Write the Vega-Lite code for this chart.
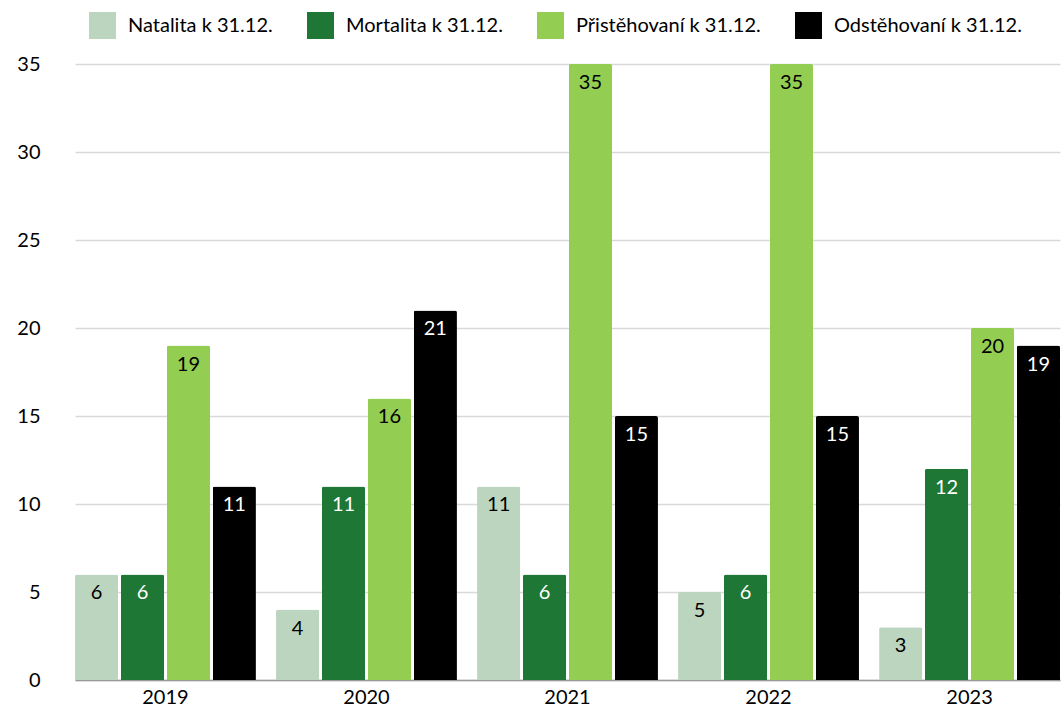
{
  "$schema": "https://vega.github.io/schema/vega-lite/v6.json",
  "width": 985,
  "height": 616,
  "autosize": {"type": "none"},
  "padding": {"left": 75, "top": 64, "right": 2, "bottom": 30},
  "background": "white",
  "config": {
    "font": "Lato",
    "view": {"stroke": null},
    "axis": {"labelFont": "Lato", "labelColor": "#000000"},
    "legend": {"labelFont": "Lato"}
  },
  "data": {
    "values": [
      {"year": "2019", "series": "Natalita k 31.12.", "value": 6},
      {"year": "2019", "series": "Mortalita k 31.12.", "value": 6},
      {"year": "2019", "series": "Přistěhovaní k 31.12.", "value": 19},
      {"year": "2019", "series": "Odstěhovaní k 31.12.", "value": 11},
      {"year": "2020", "series": "Natalita k 31.12.", "value": 4},
      {"year": "2020", "series": "Mortalita k 31.12.", "value": 11},
      {"year": "2020", "series": "Přistěhovaní k 31.12.", "value": 16},
      {"year": "2020", "series": "Odstěhovaní k 31.12.", "value": 21},
      {"year": "2021", "series": "Natalita k 31.12.", "value": 11},
      {"year": "2021", "series": "Mortalita k 31.12.", "value": 6},
      {"year": "2021", "series": "Přistěhovaní k 31.12.", "value": 35},
      {"year": "2021", "series": "Odstěhovaní k 31.12.", "value": 15},
      {"year": "2022", "series": "Natalita k 31.12.", "value": 5},
      {"year": "2022", "series": "Mortalita k 31.12.", "value": 6},
      {"year": "2022", "series": "Přistěhovaní k 31.12.", "value": 35},
      {"year": "2022", "series": "Odstěhovaní k 31.12.", "value": 15},
      {"year": "2023", "series": "Natalita k 31.12.", "value": 3},
      {"year": "2023", "series": "Mortalita k 31.12.", "value": 12},
      {"year": "2023", "series": "Přistěhovaní k 31.12.", "value": 20},
      {"year": "2023", "series": "Odstěhovaní k 31.12.", "value": 19}
    ]
  },
  "encoding": {
    "x": {
      "field": "year", "type": "nominal",
      "scale": {"paddingInner": 0.1, "paddingOuter": 0},
      "axis": {"title": null, "labelAngle": 0, "labelFontSize": 20, "labelPadding": 7, "ticks": false, "domain": true, "domainColor": "#999999", "domainWidth": 1.5, "grid": false}
    },
    "xOffset": {
      "field": "series", "type": "nominal",
      "sort": ["Natalita k 31.12.", "Mortalita k 31.12.", "Přistěhovaní k 31.12.", "Odstěhovaní k 31.12."],
      "scale": {"paddingInner": 0.06, "paddingOuter": 0}
    },
    "y": {
      "field": "value", "type": "quantitative",
      "scale": {"domain": [0, 35], "nice": false},
      "axis": {"title": null, "values": [0, 5, 10, 15, 20, 25, 30, 35], "labelFontSize": 20, "labelPadding": 35, "ticks": false, "domain": false, "gridColor": "#d9d9d9", "gridWidth": 1.5}
    }
  },
  "layer": [
    {
      "mark": {"type": "bar", "cornerRadiusTopLeft": 2, "cornerRadiusTopRight": 2},
      "encoding": {
        "color": {
          "field": "series", "type": "nominal",
          "sort": ["Natalita k 31.12.", "Mortalita k 31.12.", "Přistěhovaní k 31.12.", "Odstěhovaní k 31.12."],
          "scale": {
            "domain": ["Natalita k 31.12.", "Mortalita k 31.12.", "Přistěhovaní k 31.12.", "Odstěhovaní k 31.12."],
            "range": ["#bcd5bf", "#1e7734", "#93cd51", "#000000"]
          },
          "legend": {
            "title": null, "orient": "none", "direction": "horizontal",
            "legendX": 14, "legendY": -52,
            "symbolType": "square", "symbolSize": 729, "symbolStrokeWidth": 0,
            "labelFontSize": 20, "labelOffset": 12, "columnPadding": 34, "labelColor": "#000000",
            "labelLimit": 300
          }
        }
      }
    },
    {
      "mark": {"type": "text", "baseline": "top", "dy": 9, "fontSize": 20},
      "encoding": {
        "text": {"field": "value", "type": "quantitative"},
        "color": {
          "condition": {"test": "datum.series === 'Mortalita k 31.12.' || datum.series === 'Odstěhovaní k 31.12.'", "value": "#ffffff"},
          "value": "#000000"
        }
      }
    }
  ]
}
